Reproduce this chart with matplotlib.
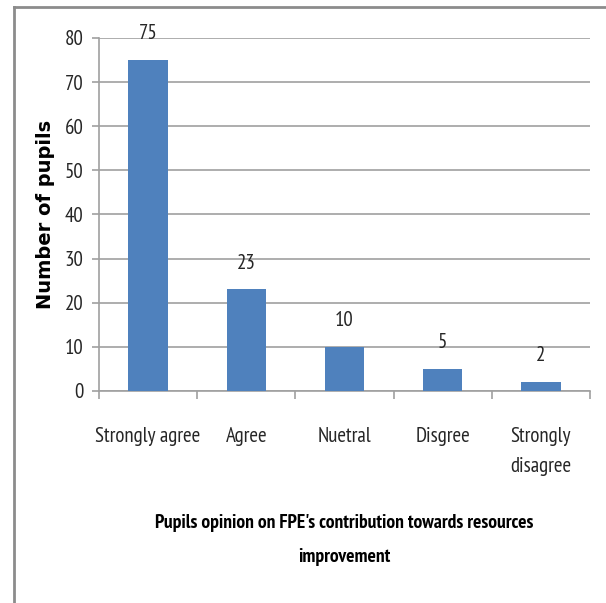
import matplotlib
matplotlib.use("Agg")
import matplotlib.pyplot as plt
from matplotlib.lines import Line2D
import numpy as np

categories = ["Strongly agree", "Agree", "Nuetral", "Disgree", "Strongly\ndisagree"]
pupils = [75, 23, 10, 5, 2]
y_ticks = [0, 10, 20, 30, 40, 50, 60, 70, 80]

bar_color = "#4F81BD"
grid_color = "#A0A0A0"
text_color = "#262626"
narrow = ["PT Sans Narrow", "DejaVu Sans"]

fig = plt.figure(figsize=(6.06, 6.03), dpi=100)
ax = fig.add_axes([0.1634, 0.3516, 0.8102, 0.5854])

x = np.arange(len(categories))
bars = ax.bar(x, pupils, width=0.4, color=bar_color, zorder=3)

for xi, v in zip(x, pupils):
    ax.annotate(str(v), (xi, v), xytext=(0, 12), textcoords="offset points",
                ha="center", va="bottom", fontsize=15, family=narrow,
                color=text_color)

ax.set_xlim(-0.5, len(categories) - 0.5)
ax.set_ylim(0, 80)
ax.set_yticks(y_ticks)
ax.set_yticklabels([str(t) for t in y_ticks], family=narrow, fontsize=15,
                   color=text_color)
ax.yaxis.grid(True, color=grid_color, linewidth=1.2, zorder=0)

# category labels sit between boundary ticks
ax.set_xticks(x)
ax.set_xticklabels(categories, family=narrow, fontsize=15, color=text_color,
                   linespacing=1.7, va="top")
ax.tick_params(axis="x", which="major", length=0, pad=26)
ax.set_xticks(np.arange(-0.5, len(categories)), minor=True)
ax.tick_params(axis="x", which="minor", length=6, color=grid_color, width=1.2)
ax.tick_params(axis="y", length=5, color=grid_color, width=1.2, pad=6)

for side in ["top", "right"]:
    ax.spines[side].set_visible(False)
for side in ["left", "bottom"]:
    ax.spines[side].set_color(grid_color)
    ax.spines[side].set_linewidth(1.2)

ax.set_ylabel("Number of pupils", fontsize=14, fontweight="bold",
              family="DejaVu Sans", color="black")
ax.yaxis.set_label_coords(-0.09, 0.5)

fig.text(344 / 606, 1 - 540 / 603,
         "Pupils opinion on FPE's contribution towards resources\nimprovement",
         ha="center", va="center", fontsize=14, fontweight="bold",
         family=narrow, linespacing=2.1, color="black")

# outer frame: only left and top edges show
frame_x = 14 / 606
frame_y = 1 - 7 / 603
fig.add_artist(Line2D([frame_x, frame_x], [0, frame_y], color="#8C8C8C",
                      linewidth=2, transform=fig.transFigure))
fig.add_artist(Line2D([frame_x, 1], [frame_y, frame_y], color="#8C8C8C",
                      linewidth=2, transform=fig.transFigure))

fig.savefig("out.png", dpi=100)
